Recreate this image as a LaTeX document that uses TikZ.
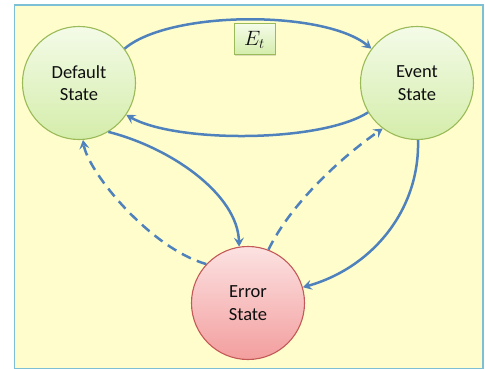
\documentclass[tikz,border=0pt]{standalone}
\usepackage{fontspec}
\setmainfont{Carlito}
\usetikzlibrary{arrows.meta,shadows}
\definecolor{bgyellow}{RGB}{255,253,204}
\definecolor{bgborder}{RGB}{125,192,214}
\definecolor{greentop}{RGB}{244,251,232}
\definecolor{greenbot}{RGB}{212,237,170}
\definecolor{greenborder}{RGB}{155,187,89}
\definecolor{redtop}{RGB}{252,226,226}
\definecolor{redbot}{RGB}{243,158,158}
\definecolor{redborder}{RGB}{196,90,88}
\definecolor{arrowblue}{RGB}{79,129,189}
\definecolor{txt}{RGB}{15,15,15}
\tikzset{
  statenode/.style={circle, minimum size=113pt, inner sep=0pt, line width=1.1pt,
    align=center, text=txt, font=\fontsize{18.5}{22.5}\selectfont},
  greenstate/.style={statenode, draw=greenborder, top color=greentop, bottom color=greenbot},
  redstate/.style={statenode, draw=redborder, top color=redtop, bottom color=redbot},
  labelbox/.style={draw=greenborder, line width=1pt, top color=greentop, bottom color=greenbot,
    minimum width=41pt, minimum height=31pt, inner sep=0pt, text=txt,
    drop shadow={shadow xshift=1pt, shadow yshift=-1pt, opacity=0.25},
    font=\fontsize{22}{24}\selectfont},
  conn/.style={draw=arrowblue, line width=2.5pt,
    -{Stealth[length=9pt,width=10pt,inset=3.5pt]}},
  dashconn/.style={conn, dash pattern=on 10pt off 6.5pt}
}
\begin{document}
\begin{tikzpicture}[x=1pt,y=-1pt]
\useasboundingbox (0,0) rectangle (485,369);
\fill[white] (0,0) rectangle (485,369);
\draw[fill=bgyellow, draw=bgborder, line width=1.5pt] (14.5,5) rectangle (483,368.5);

\node[greenstate] (d) at (79,83) {Default\\State};
\node[greenstate] (e) at (417,83) {Event\\State};
\node[redstate] (r) at (248,303) {Error\\State};
\node[labelbox] (et) at (254.5,39.5) {$E_t$};

% Default -> Event (top)
\draw[conn] (d.37) .. controls (170,10) and (325,10) .. (e.143);
% Event -> Default (bottom)
\draw[conn] (e.211) .. controls (320,143) and (175,143) .. (d.326);
% Default -> Error (solid)
\draw[conn] (d.301) .. controls (172,148) and (238,195) .. (r.99);
% Error -> Default (dashed)
\draw[dashconn] (r.137) .. controls (150,248) and (88,172) .. (d.274);
% Error -> Event (dashed)
\draw[dashconn] (r.69) .. controls (290,205) and (340,158) .. (e.233);
% Event -> Error (solid)
\draw[conn] (e.271) .. controls (420,210) and (372,268) .. (r.16);
\end{tikzpicture}
\end{document}
